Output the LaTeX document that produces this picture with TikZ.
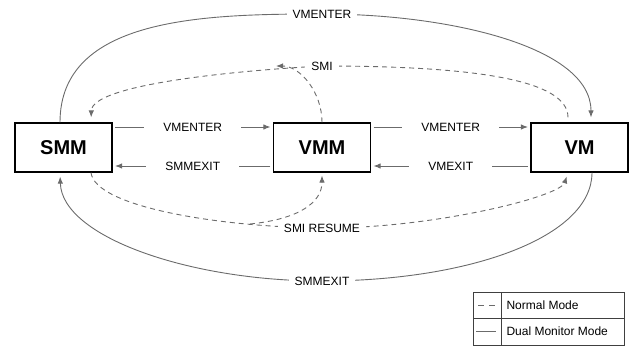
\documentclass[tikz,border=0pt]{standalone}
\usepackage{fontspec}
\setmainfont{Liberation Sans}
\usetikzlibrary{arrows.meta}

\definecolor{flowgray}{HTML}{6B6B6B}
\tikzset{
  unit/.style={draw=black, line width=1.2pt, minimum width=97pt, minimum height=49pt,
    inner sep=0pt, font=\fontsize{20}{24}\selectfont\bfseries},
  lbl/.style={fill=white, inner xsep=6pt, inner ysep=1pt, font=\fontsize{12}{14}\selectfont},
  hop/.style={lbl, inner xsep=19pt},
  flow/.style={draw=flowgray, line width=0.9pt, -{Latex[length=7pt,width=5.5pt]}},
  dualmode/.style={flow},
  normalmode/.style={flow, dash pattern=on 5pt off 4pt},
}

\begin{document}
\begin{tikzpicture}[x=1pt,y=1pt]
  \useasboundingbox (0,0) rectangle (638,347);
  \draw
    (63.5,199.5) node[unit] (smm){SMM}
    (322,199.5) node[unit] (vmm){VMM}
    (579.5,199.5) node[unit] (vm){VM};
  \coordinate (smijoin) at (276,281);
  \coordinate (resjoin) at (250,123);

  % transitions between neighbours
  \begin{scope}[flow, shorten <=2.5pt, shorten >=2.5pt]
    \draw ([yshift=20.5pt]smm.east) -- node[hop] (e1){VMENTER} ([yshift=20.5pt]vmm.west);
    \draw ([yshift=-18.5pt]vmm.west) -- node[hop] (x1){SMMEXIT} ([yshift=-18.5pt]smm.east);
    \draw ([yshift=20.5pt]vmm.east) -- node[hop] (e2){VMENTER} ([yshift=20.5pt]vm.west);
    \draw ([yshift=-18.5pt]vm.west) -- node[hop] (x2){VMEXIT} ([yshift=-18.5pt]vmm.east);
  \end{scope}

  % dual monitor mode
  \begin{scope}[dualmode]
    \draw[shorten >=5pt] ([xshift=-3.5pt]smm.north)
      .. controls (60,330) and (205,333) .. (322,333) node[lbl] (topenter){VMENTER}
      .. controls (450,333) and (591,300) .. ([xshift=11.5pt]vm.north);
    \draw[shorten >=4pt] ([xshift=12.5pt]vm.south)
      .. controls (592,110) and (470,66) .. (322,66) node[lbl] (botexit){SMMEXIT}
      .. controls (190,66) and (62,110) .. ([xshift=-3.5pt]smm.south);
  \end{scope}

  % normal mode
  \begin{scope}[normalmode]
    \draw[shorten <=5pt, shorten >=5pt] ([xshift=-11.5pt]vm.north)
      .. controls (568,268) and (470,281) .. (322,281) node[lbl] (smi){SMI}
      .. controls (230,276) and (92,262) .. ([xshift=27.5pt]smm.north);
    \draw (vmm.north) .. controls (322,255) and (300,281) .. (smijoin);
    \draw[shorten >=4pt] ([xshift=27.5pt]smm.south)
      .. controls (95,140) and (220,120) .. (322,119) node[lbl] (resume){SMI RESUME}
      .. controls (430,118) and (560,150) .. ([xshift=-11.5pt]vm.south);
    \draw[shorten >=3pt] (resjoin) .. controls (300,128) and (322,145) .. (vmm.south);
  \end{scope}

  % legend
  \draw[black!75, line width=0.8pt] (473,2) rectangle (624,55)
    (501,2) -- (501,55) (473,29) -- (624,29);
  \draw[flowgray, line width=0.9pt, dash pattern=on 6pt off 5pt] (478,42) -- (495,42);
  \draw[flowgray, line width=0.9pt] (476,15.5) -- (496,15.5);
  \node[anchor=west, font=\fontsize{12}{14}\selectfont] (normalkey) at (503,42) {Normal Mode};
  \node[anchor=west, font=\fontsize{12}{14}\selectfont] (dualkey) at (503,15.5) {Dual Monitor Mode};
\end{tikzpicture}
\end{document}
